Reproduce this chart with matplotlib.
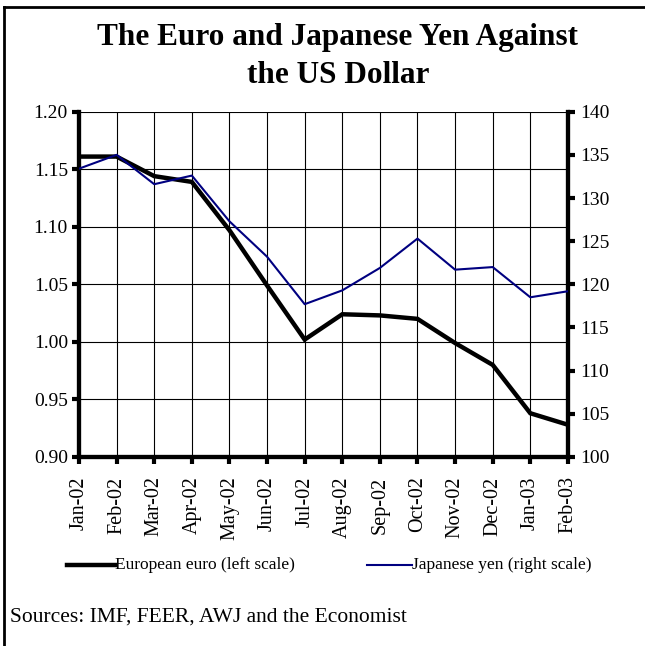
import matplotlib
matplotlib.use("Agg")
import matplotlib.pyplot as plt
from matplotlib.lines import Line2D

months = ["Jan-02", "Feb-02", "Mar-02", "Apr-02", "May-02", "Jun-02", "Jul-02",
          "Aug-02", "Sep-02", "Oct-02", "Nov-02", "Dec-02", "Jan-03", "Feb-03"]
euro = [1.161, 1.161, 1.144, 1.139, 1.097, 1.049, 1.002, 1.024, 1.023, 1.020,
        0.999, 0.980, 0.938, 0.928]
yen = [133.4, 135.0, 131.6, 132.6, 127.3, 123.2, 117.7, 119.3, 121.9, 125.3,
       121.7, 122.0, 118.5, 119.2]
left_ticks = [0.90, 0.95, 1.00, 1.05, 1.10, 1.15, 1.20]
right_ticks = [100, 105, 110, 115, 120, 125, 130, 135, 140]
series_labels = ["European euro (left scale)", "Japanese yen (right scale)"]

plt.rcParams['font.family'] = ['Liberation Serif', 'DejaVu Serif']

fig = plt.figure(figsize=(6.45, 6.46), dpi=100)
ax = fig.add_axes([0.1225, 0.2926, 0.758, 0.5345])
ax2 = ax.twinx()

x = list(range(len(months)))
ax.plot(x, euro, color='black', lw=3.2, solid_joinstyle='miter', zorder=3)
ax2.plot(x, yen, color='#000080', lw=1.5, zorder=3)

ax.set_xlim(0, len(months) - 1)
ax.set_ylim(0.90, 1.20)
ax2.set_ylim(100, 140)
ax.set_yticks(left_ticks)
ax.set_yticklabels([f"{v:.2f}" for v in left_ticks])
ax2.set_yticks(right_ticks)
ax2.set_yticklabels([str(v) for v in right_ticks])
ax.set_xticks(x)
ax.set_xticklabels(months, rotation=90)

ax.grid(True, color='black', lw=0.8)
ax.set_axisbelow(True)

for a in (ax, ax2):
    a.spines['top'].set_visible(False)
    a.spines['left'].set_linewidth(3)
    a.spines['right'].set_linewidth(3)
    a.spines['bottom'].set_linewidth(3)
ax.tick_params(axis='y', labelsize=14, width=3, length=5, pad=3)
ax2.tick_params(axis='y', labelsize=14, width=3, length=5, pad=4)
ax.tick_params(axis='x', labelsize=14.5, width=3, length=5, pad=9)

fig.text(0.524, 0.913, "The Euro and Japanese Yen Against\nthe US Dollar",
         ha='center', va='center', fontsize=22.5, fontweight='bold',
         linespacing=1.4)

# legend drawn manually
y_leg = 1 - 565 / 646
fig.add_artist(Line2D([0.104, 0.178], [y_leg, y_leg], color='black', lw=3.2,
                      transform=fig.transFigure))
fig.text(0.178, y_leg, series_labels[0], ha='left', va='center', fontsize=12.5)
fig.add_artist(Line2D([0.569, 0.639], [y_leg, y_leg], color='#000080', lw=1.5,
                      transform=fig.transFigure))
fig.text(0.639, y_leg, series_labels[1], ha='left', va='center', fontsize=12.5)

fig.text(0.015, 0.045, "Sources: IMF, FEER, AWJ and the Economist",
         ha='left', va='center', fontsize=15.5)

# frame lines (top and left)
fig.add_artist(Line2D([0.006, 1.0], [0.989, 0.989], color='black', lw=2,
                      transform=fig.transFigure))
fig.add_artist(Line2D([0.006, 0.006], [0.0, 0.989], color='black', lw=2,
                      transform=fig.transFigure))

fig.savefig("out.png", dpi=100)
